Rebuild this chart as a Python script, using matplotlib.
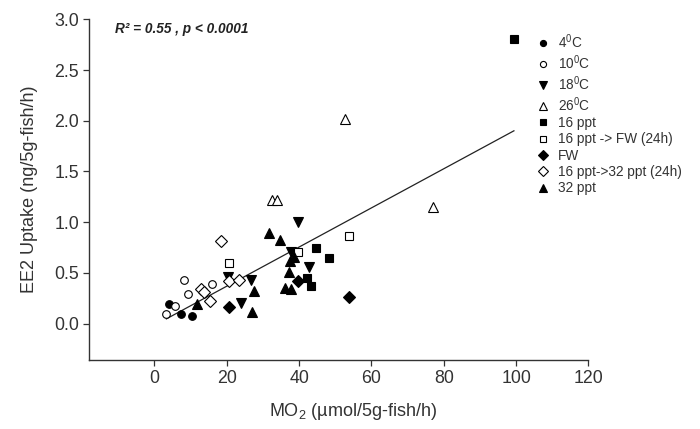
# EE2 uptake vs oxygen consumption (MO2), all treatment groups, with linear fit.
import numpy as np
import matplotlib
matplotlib.use('Agg')
import matplotlib.pyplot as plt

plt.rcParams['font.family'] = ['Liberation Sans', 'DejaVu Sans']
plt.rcParams['mathtext.fontset'] = 'custom'
plt.rcParams['mathtext.rm'] = 'Liberation Sans'
plt.rcParams['mathtext.it'] = 'Liberation Sans:italic'
plt.rcParams['mathtext.bf'] = 'Liberation Sans:bold'

# values: (MO2, EE2 uptake) per group
c4_x = [4.1, 7.3, 10.3]
c4_y = [0.19, 0.09, 0.07]
c10_x = [3.3, 5.6, 8.2, 9.4, 15.8]
c10_y = [0.09, 0.17, 0.43, 0.29, 0.39]
c18_x = [20.4, 23.9, 26.8, 37.9, 39.8, 42.8]
c18_y = [0.46, 0.20, 0.43, 0.71, 1.00, 0.56]
c26_x = [32.4, 33.8, 52.7, 76.9]
c26_y = [1.22, 1.22, 2.02, 1.15]
p16_x = [44.8, 48.3, 42.1, 43.2, 99.4]
p16_y = [0.74, 0.65, 0.45, 0.37, 2.81]
p16fw_x = [20.6, 39.8, 53.9]
p16fw_y = [0.60, 0.71, 0.86]
fw_x = [20.5, 39.8, 53.9]
fw_y = [0.16, 0.42, 0.26]
p16_32_x = [18.4, 12.8, 13.7, 15.3, 20.7, 23.5]
p16_32_y = [0.81, 0.34, 0.31, 0.22, 0.42, 0.43]
p32_x = [11.8, 26.9, 27.6, 31.6, 34.6, 37.5, 38.6, 37.3, 36.1, 37.9]
p32_y = [0.19, 0.11, 0.32, 0.89, 0.82, 0.62, 0.66, 0.51, 0.35, 0.34]

fit_slope = 0.0193
fit_intercept = -0.018

x_ticks = [0, 20, 40, 60, 80, 100, 120]
y_ticks = [0.0, 0.5, 1.0, 1.5, 2.0, 2.5, 3.0]


def main():
    fig = plt.figure(figsize=(7, 4.29), dpi=100)
    ax = fig.add_axes([0.1276, 0.1608, 0.713, 0.7942])

    groups = [
        (c4_x, c4_y, 'o', True, '4$^{\\mathrm{0}}$C', 5.5),
        (c10_x, c10_y, 'o', False, '10$^{\\mathrm{0}}$C', 5.5),
        (c18_x, c18_y, 'v', True, '18$^{\\mathrm{0}}$C', 7),
        (c26_x, c26_y, '^', False, '26$^{\\mathrm{0}}$C', 7),
        (p16_x, p16_y, 's', True, '16 ppt', 6),
        (p16fw_x, p16fw_y, 's', False, '16 ppt -> FW (24h)', 6),
        (fw_x, fw_y, 'D', True, 'FW', 6),
        (p16_32_x, p16_32_y, 'D', False, '16 ppt->32 ppt (24h)', 6),
        (p32_x, p32_y, '^', True, '32 ppt', 7),
    ]

    all_x = np.concatenate([g[0] for g in groups])
    xs = np.array([all_x.min(), all_x.max()])
    ax.plot(xs, fit_slope * xs + fit_intercept, color='#222222', lw=0.9, zorder=2)

    for gx, gy, m, filled, label, ms in groups:
        ax.plot(gx, gy, linestyle='none', marker=m, markersize=ms,
                markerfacecolor='black' if filled else 'white',
                markeredgecolor='black', markeredgewidth=0.8,
                label=label, zorder=3)

    ax.set_xlim(-18, 120)
    ax.set_ylim(-0.36, 3.0)
    ax.set_xticks(x_ticks)
    ax.set_yticks(y_ticks)
    ax.set_yticklabels([format(v, '.1f') for v in y_ticks])
    for s in ['top', 'right']:
        ax.spines[s].set_visible(False)
    for s in ['left', 'bottom']:
        ax.spines[s].set_color('#333333')
        ax.spines[s].set_linewidth(1.0)
    ax.tick_params(direction='out', length=4, width=0.9, color='#333333',
                   labelsize=12.8, labelcolor='#333333')

    ax.set_xlabel('MO$_2$ (\u00b5mol/5g-fish/h)', fontsize=13, color='#333333')
    ax.set_ylabel('EE2 Uptake (ng/5g-fish/h)', fontsize=13, color='#333333')
    ax.xaxis.set_label_coords(0.528, -0.12)
    ax.yaxis.set_label_coords(-0.102, 0.5)

    fig.text(0.164, 0.923, 'R\u00b2 = 0.55 , p < 0.0001', fontsize=9.8,
             fontweight='bold', fontstyle='italic', color='#222222')

    ax.legend(loc='upper left', bbox_to_anchor=(0.766, 0.9245),
              bbox_transform=fig.transFigure, frameon=False, fontsize=9.8,
              handlelength=1.0, handletextpad=0.6, labelspacing=0.17,
              borderpad=0, borderaxespad=0, labelcolor='#333333',
              markerscale=0.8)

    fig.savefig('out.png', dpi=100)
    print('wrote out.png')


if __name__ == '__main__':
    main()
